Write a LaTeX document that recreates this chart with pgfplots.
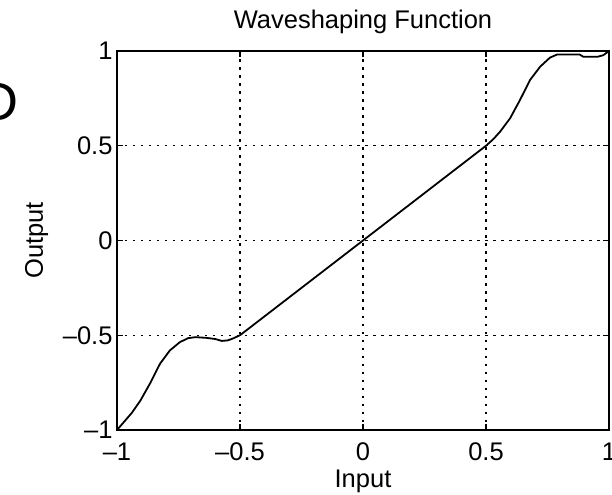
\documentclass[border=0pt]{standalone}
\usepackage{fontspec}
\setmainfont{Liberation Sans}
\usepackage{pgfplots}
\pgfplotsset{compat=1.18}

\begin{document}
\begin{tikzpicture}[font=\fontsize{25.5bp}{30bp}\selectfont]
\begin{axis}[
    name=ax,
    scale only axis, width=492bp, height=379bp,
    xmin=-1, xmax=1, ymin=-1, ymax=1,
    xtick={-1,-0.5,0,0.5,1}, ytick={-1,-0.5,0,0.5,1},
    xticklabels={–1,–0.5,0,0.5,1},
    yticklabels={–1,–0.5,0,0.5,1},
    xticklabel style={yshift=-9bp},
    yticklabel style={xshift=-1bp},
    tick align=inside, major tick length=6bp,
    tick style={black, line width=1.2pt},
    axis line style={black, line width=1.6pt},
    grid=major,
    major grid style={black, line width=1.3pt, dash pattern=on 2.5bp off 5.5bp},
    title={Waveshaping Function},
    title style={at={(axis description cs:0.5,1)}, anchor=base, yshift=17bp},
    xlabel={Input},
    xlabel style={at={(axis description cs:0.5,-0.153)}, anchor=base},
    ylabel={Output},
    ylabel style={at={(axis description cs:-0.1504,0.5)}, anchor=base, rotate=0},
]
\addplot[black, line width=1.8pt] coordinates {
 (-1,-1) (-0.97,-0.955) (-0.94,-0.91) (-0.905,-0.845) (-0.866,-0.755)
 (-0.825,-0.65) (-0.785,-0.58) (-0.744,-0.536) (-0.71,-0.515) (-0.68,-0.51)
 (-0.635,-0.514) (-0.6,-0.52) (-0.574,-0.53) (-0.55,-0.527) (-0.53,-0.518)
 (-0.5,-0.5) (0.5,0.5) (0.53,0.535) (0.557,0.574) (0.598,0.645)
 (0.638,0.741) (0.679,0.847) (0.72,0.917) (0.76,0.965) (0.79,0.982)
 (0.88,0.982) (0.895,0.97) (0.955,0.97) (0.977,0.978) (1,1)};
\end{axis}
\node[anchor=east, inner sep=0pt, font=\fontsize{54bp}{60bp}\selectfont]
  at ([shift={(-98bp,328bp)}]ax.south west) {D};
\pgfresetboundingbox
\path[use as bounding box] ([shift={(-117bp,-65bp)}]ax.south west)
  rectangle ++(612bp,495bp);
\end{tikzpicture}
\end{document}
